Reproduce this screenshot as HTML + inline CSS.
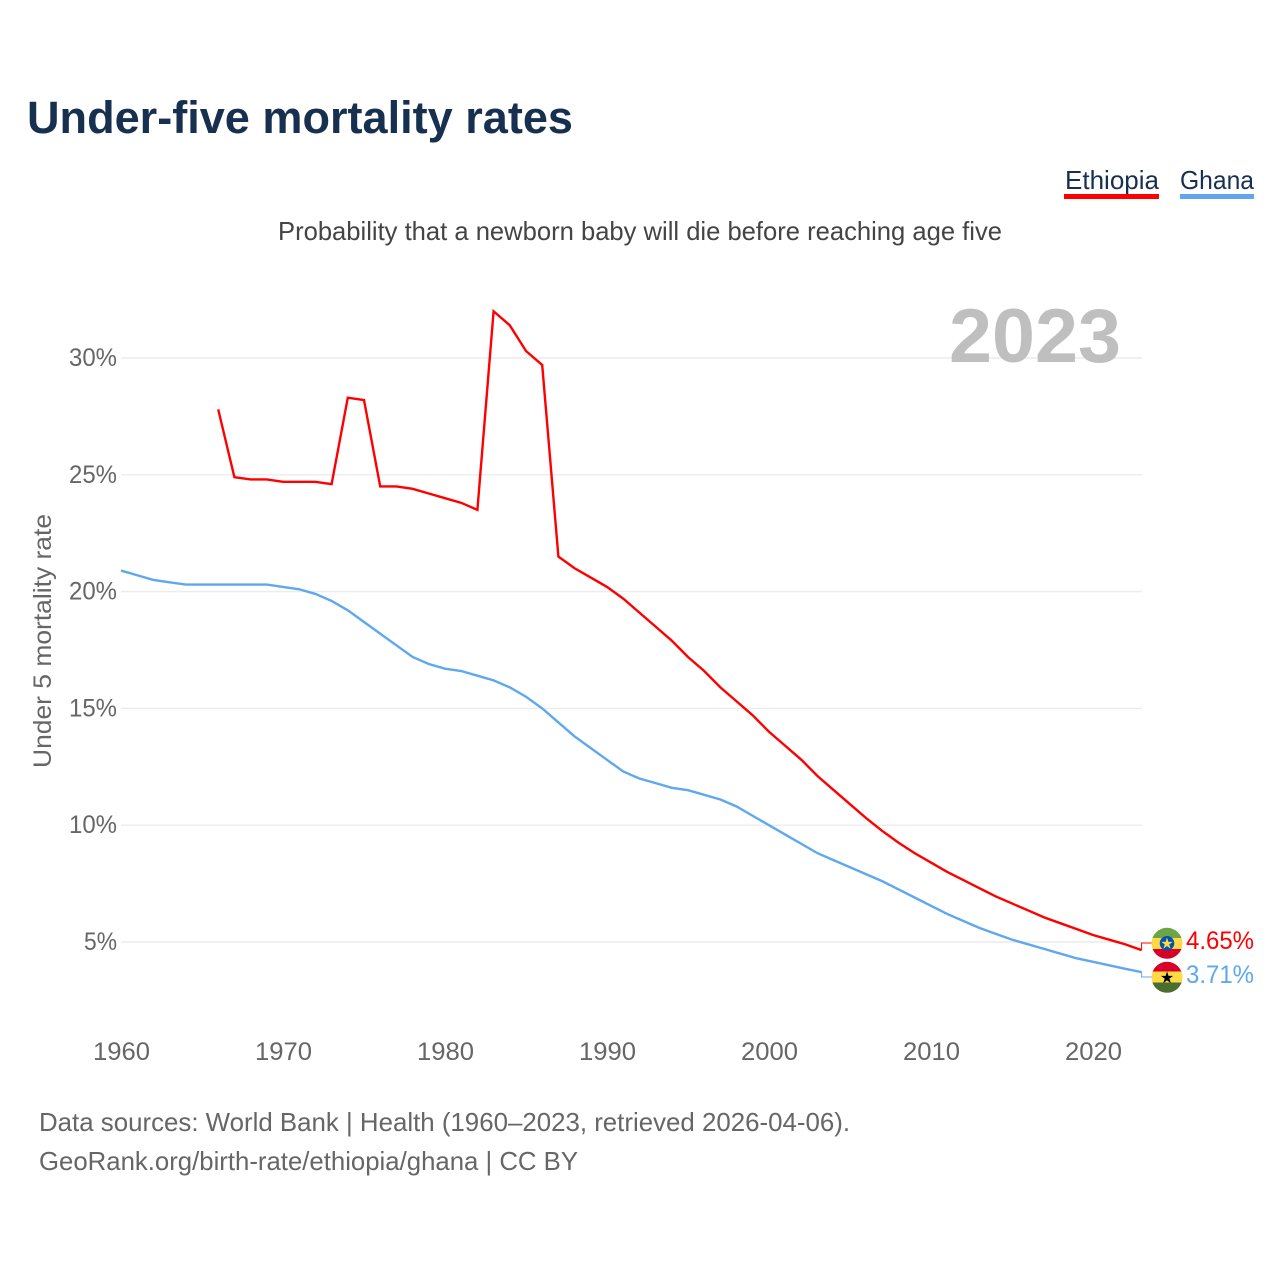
<!DOCTYPE html>
<html lang="en">
<head>
<meta charset="utf-8">
<title>Under-five mortality rates</title>
<style>
html,body{margin:0;padding:0;background:#fff;width:1280px;height:1280px;overflow:hidden}
svg{display:block;font-family:"Liberation Sans",sans-serif}
</style>
</head>
<body>
<svg id="chart" xmlns="http://www.w3.org/2000/svg" width="1280" height="1280" viewBox="0 0 1280 1280">
  <rect width="1280" height="1280" fill="#fff"/>
  <text x="27" y="133" font-size="45" font-weight="700" fill="#18304f" textLength="546" lengthAdjust="spacingAndGlyphs">Under-five mortality rates</text>
  <text x="1065" y="189" font-size="26" fill="#18304f" textLength="94" lengthAdjust="spacingAndGlyphs">Ethiopia</text>
  <rect x="1064" y="194" width="95" height="5" fill="#ff0000"/>
  <text x="1180" y="189" font-size="26" fill="#18304f" textLength="74" lengthAdjust="spacingAndGlyphs">Ghana</text>
  <rect x="1180" y="194" width="74" height="5" fill="#5fa8ee"/>
  <text x="278" y="240" font-size="26" fill="#444" textLength="724" lengthAdjust="spacingAndGlyphs">Probability that a newborn baby will die before reaching age five</text>
  <g id="grid"></g>
  <text x="949" y="362" font-size="76" font-weight="700" fill="#bfbfbf" textLength="172" lengthAdjust="spacingAndGlyphs">2023</text>
  <text transform="translate(51,641) rotate(-90)" text-anchor="middle" font-size="25" fill="#666" textLength="254" lengthAdjust="spacingAndGlyphs">Under 5 mortality rate</text>
  <g id="yticks"></g>
  <g id="xticks"></g>
  <g id="lines"></g>

  <g>
    <clipPath id="clipEth"><circle cx="1167" cy="943.3" r="15.5"/></clipPath>
    <g clip-path="url(#clipEth)">
      <rect x="1150" y="927" width="34" height="11" fill="#6da544"/>
      <rect x="1150" y="938" width="34" height="11" fill="#ffda44"/>
      <rect x="1150" y="949" width="34" height="11" fill="#d80027"/>
    </g>
    <circle cx="1167" cy="943.3" r="7.3" fill="#0052b4"/>
    <text x="1167" y="948.6" text-anchor="middle" font-size="15" fill="#ffda44" font-family="DejaVu Sans, sans-serif">★</text>
  </g>
  <g>
    <clipPath id="clipGha"><circle cx="1167" cy="977.3" r="15.5"/></clipPath>
    <g clip-path="url(#clipGha)">
      <rect x="1150" y="961" width="34" height="11" fill="#d80027"/>
      <rect x="1150" y="971.5" width="34" height="11" fill="#ffda44"/>
      <rect x="1150" y="982.5" width="34" height="11" fill="#496e2d"/>
    </g>
    <text x="1167" y="983" text-anchor="middle" font-size="16" fill="#000" font-family="DejaVu Sans, sans-serif">★</text>
  </g>

  <text x="1186" y="949" font-size="25" fill="#ff0000" textLength="68" lengthAdjust="spacingAndGlyphs">4.65%</text>
  <text x="1186" y="983" font-size="25" fill="#5fa8ee" textLength="68" lengthAdjust="spacingAndGlyphs">3.71%</text>

  <text x="39" y="1131" font-size="26" fill="#666" textLength="811" lengthAdjust="spacingAndGlyphs">Data sources: World Bank | Health (1960–2023, retrieved 2026-04-06).</text>
  <text x="39" y="1170" font-size="26" fill="#666" textLength="539" lengthAdjust="spacingAndGlyphs">GeoRank.org/birth-rate/ethiopia/ghana | CC BY</text>
</svg>
<script>
const yTickValues = [5, 10, 15, 20, 25, 30];
const xTickYears = [1960, 1970, 1980, 1990, 2000, 2010, 2020];
const ethiopiaYears = [1966,1967,1968,1969,1970,1971,1972,1973,1974,1975,1976,1977,1978,1979,1980,1981,1982,1983,1984,1985,1986,1987,1988,1989,1990,1991,1992,1993,1994,1995,1996,1997,1998,1999,2000,2001,2002,2003,2004,2005,2006,2007,2008,2009,2010,2011,2012,2013,2014,2015,2016,2017,2018,2019,2020,2021,2022,2023];
const ethiopiaValues = [27.8,24.9,24.8,24.8,24.7,24.7,24.7,24.6,28.3,28.2,24.5,24.5,24.4,24.2,24.0,23.8,23.5,32.0,31.4,30.3,29.7,21.5,21.0,20.6,20.2,19.7,19.1,18.5,17.9,17.2,16.6,15.9,15.3,14.7,14.0,13.4,12.8,12.1,11.5,10.9,10.3,9.75,9.25,8.8,8.4,8.0,7.65,7.3,6.95,6.65,6.35,6.05,5.8,5.55,5.3,5.1,4.9,4.65];
const ghanaYears = [1960,1961,1962,1963,1964,1965,1966,1967,1968,1969,1970,1971,1972,1973,1974,1975,1976,1977,1978,1979,1980,1981,1982,1983,1984,1985,1986,1987,1988,1989,1990,1991,1992,1993,1994,1995,1996,1997,1998,1999,2000,2001,2002,2003,2004,2005,2006,2007,2008,2009,2010,2011,2012,2013,2014,2015,2016,2017,2018,2019,2020,2021,2022,2023];
const ghanaValues = [20.9,20.7,20.5,20.4,20.3,20.3,20.3,20.3,20.3,20.3,20.2,20.1,19.9,19.6,19.2,18.7,18.2,17.7,17.2,16.9,16.7,16.6,16.4,16.2,15.9,15.5,15.0,14.4,13.8,13.3,12.8,12.3,12.0,11.8,11.6,11.5,11.3,11.1,10.8,10.4,10.0,9.6,9.2,8.8,8.5,8.2,7.9,7.6,7.25,6.9,6.55,6.2,5.9,5.6,5.35,5.1,4.9,4.7,4.5,4.3,4.15,4.0,3.85,3.71];

const NS = 'http://www.w3.org/2000/svg';
function xScale(year) { return 121 + (year - 1960) * 16.2; }
function yScale(v) { return 942 - (v - 5) * 23.36; }
function make(tag, attrs, parent) {
  const el = document.createElementNS(NS, tag);
  for (const k in attrs) el.setAttribute(k, attrs[k]);
  parent.appendChild(el);
  return el;
}
const grid = document.getElementById('grid');
const yticks = document.getElementById('yticks');
const xticks = document.getElementById('xticks');
const lines = document.getElementById('lines');

yTickValues.forEach(function (v) {
  const g = make('line', {x1: 121, x2: 1142, y1: yScale(v), y2: yScale(v), stroke: '#ececec', 'stroke-width': 1.4}, grid);
  
  
  const label = v + '%';
  const t = make('text', {x: 117, y: yScale(v) + 8, 'text-anchor': 'end', 'font-size': 25, fill: '#666', textLength: v >= 10 ? 48 : 33, lengthAdjust: 'spacingAndGlyphs'}, yticks);
  t.textContent = label;
  
  
});

xTickYears.forEach(function (yr) {
  const t = make('text', {x: xScale(yr) + 0.5, y: 1060, 'text-anchor': 'middle', 'font-size': 25, fill: '#666', textLength: 57, lengthAdjust: 'spacingAndGlyphs'}, xticks);
  t.textContent = yr;
  
  
});

function seriesPath(years, values) {
  return years.map(function (yr, i) {
    return (i ? 'L' : 'M') + xScale(yr).toFixed(2) + ' ' + yScale(values[i]).toFixed(2);
  }).join(' ');
}
function connectorPath(years, values, flagY) {
  const ex = xScale(years[years.length - 1]);
  const ey = yScale(values[values.length - 1]);
  return 'M' + ex + ' ' + ey.toFixed(2) + ' V' + flagY + ' H1152';
}

const connEth = make('path', {d: connectorPath(ethiopiaYears, ethiopiaValues, 943), fill: 'none', stroke: '#ff0000', 'stroke-width': 1}, lines);



const connGha = make('path', {d: connectorPath(ghanaYears, ghanaValues, 977), fill: 'none', stroke: '#5fa8ee', 'stroke-width': 1}, lines);



const lineGha = make('path', {d: seriesPath(ghanaYears, ghanaValues), fill: 'none', stroke: '#5fa8ee', 'stroke-width': 2.4, 'stroke-linejoin': 'miter'}, lines);



const lineEth = make('path', {d: seriesPath(ethiopiaYears, ethiopiaValues), fill: 'none', stroke: '#ff0000', 'stroke-width': 2.4, 'stroke-linejoin': 'miter'}, lines);


</script>
</body>
</html>
